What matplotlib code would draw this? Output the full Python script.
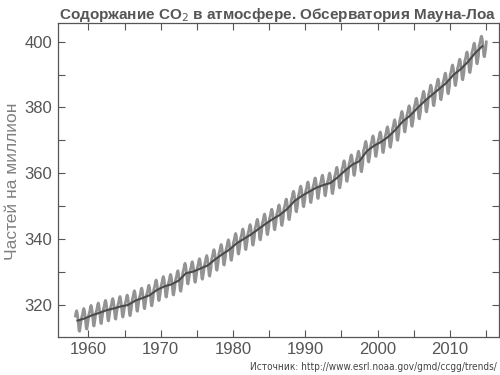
import matplotlib
matplotlib.use("Agg")
import matplotlib.pyplot as plt
import numpy as np
from matplotlib.ticker import MultipleLocator

# Annual (deseasonalised) CO2 means, ppm, Mauna Loa
years = list(range(1958, 2015))
annual = [315.3, 315.97, 316.91, 317.64, 318.45, 318.99, 319.62, 320.04, 321.38, 322.16,
          323.04, 324.62, 325.68, 326.32, 327.45, 329.68, 330.18, 331.11, 332.04, 333.83,
          335.40, 336.84, 338.75, 340.11, 341.45, 343.05, 344.65, 346.12, 347.42, 349.19,
          351.57, 353.12, 354.39, 355.61, 356.45, 357.10, 358.83, 360.82, 362.61, 363.73,
          366.70, 368.38, 369.55, 371.14, 373.28, 375.80, 377.52, 379.80, 381.90, 383.79,
          385.60, 387.43, 389.90, 391.65, 393.85, 396.52, 398.65]
# Typical monthly departure from the annual mean (Jan..Dec), ppm
seasonal = [0.0, 0.65, 1.4, 2.55, 3.0, 2.35, 0.85, -1.25, -3.05, -3.25, -1.95, -0.85]
# last value shown (Jan 2015)
last_month_value = 399.9

title = "Содоржание CO$_2$ в атмосфере. Обсерватория Мауна-Лоа"
ylabel = "Частей на миллион"
source = "Источник: http://www.esrl.noaa.gov/gmd/ccgg/trends/"

# monthly series
t, v = [], []
for y, a in zip(years, annual):
    for m, s in enumerate(seasonal):
        if y == 1958 and m < 2:
            continue
        t.append(y + (m + 0.5) / 12)
        v.append(a + s)
t.append(2015 + 0.5 / 12)
v.append(last_month_value)

trend_t = [y + 0.5 for y in years]

fig = plt.figure(figsize=(5, 3.75), dpi=100)
ax = fig.add_axes([0.116, 0.102, 0.882, 0.838])
ax.plot(t, v, color="#939393", lw=2.0, solid_joinstyle="round")
ax.plot(trend_t, annual, color="#4a4a4a", lw=1.5)

ax.set_xlim(1955.8, 2016.8)
ax.set_ylim(310.4, 405.8)
ax.xaxis.set_major_locator(MultipleLocator(10))
ax.xaxis.set_minor_locator(MultipleLocator(5))
ax.yaxis.set_major_locator(MultipleLocator(20))
ax.yaxis.set_minor_locator(MultipleLocator(10))
ax.tick_params(which="both", direction="in", top=True, right=True, color="#555555")
ax.tick_params(which="major", length=5, width=0.8, labelsize=12, labelcolor="#555555", pad=4)
ax.tick_params(which="minor", length=5, width=0.8)
for lab in ax.get_xticklabels() + ax.get_yticklabels():
    lab.set_family("Liberation Sans")
for s in ax.spines.values():
    s.set_color("#555555")
    s.set_linewidth(0.9)

fig.text(0.555, 0.985, title, ha="center", va="top", fontsize=11, fontweight="bold",
         color="#555555", family="Liberation Sans")
fig.text(0.025, 0.517, ylabel, rotation=90, ha="center", va="center", fontsize=12.5,
         color="#808080", family="Liberation Sans")
fig.text(0.994, 0.008, source, ha="right", va="bottom", fontsize=7.2, color="#444444",
         family="DejaVu Sans", stretch="condensed")

fig.savefig("out.png", dpi=100)
